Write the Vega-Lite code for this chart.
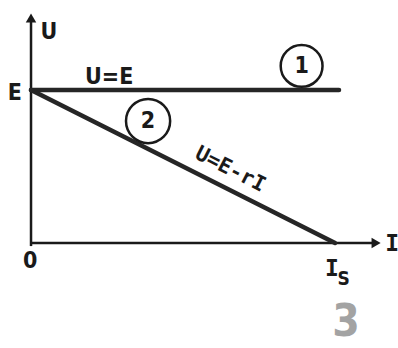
{
  "$schema": "https://vega.github.io/schema/vega-lite/v6.json",
  "width": 398,
  "height": 348,
  "autosize": {"type": "none"},
  "padding": 0,
  "background": "white",
  "config": {"view": {"stroke": null}},
  "datasets": {
    "lines": [
      {"series": "axisY", "I": 0, "U": -0.02, "o": 0},
      {"series": "axisY", "I": 0, "U": 1.47, "o": 1},
      {"series": "axisX", "I": 0, "U": 0, "o": 0},
      {"series": "axisX", "I": 1.13, "U": 0, "o": 1},
      {"series": "c1", "I": 0, "U": 1, "o": 0},
      {"series": "c1", "I": 1.013, "U": 1, "o": 1},
      {"series": "c2", "I": 0, "U": 1, "o": 0},
      {"series": "c2", "I": 1.0, "U": 0, "o": 1}
    ],
    "arrows": [
      {"dir": "up", "I": 0, "U": 1.47},
      {"dir": "right", "I": 1.135, "U": 0}
    ],
    "circles": [
      {"label": "1", "I": 0.89, "U": 1.157},
      {"label": "2", "I": 0.385, "U": 0.797}
    ],
    "labels": [
      {"t": "U", "I": 0.059, "U": 1.379},
      {"t": "E", "I": -0.053, "U": 0.98},
      {"t": "0", "I": -0.003, "U": -0.118},
      {"t": "U=E", "I": 0.257, "U": 1.085},
      {"t": "1", "I": 0.89, "U": 1.157},
      {"t": "2", "I": 0.385, "U": 0.797}
    ],
    "ilabels": [
      {"t": "I", "I": 1.188, "U": -0.007},
      {"t": "I", "I": 0.99, "U": -0.17}
    ],
    "sub": [
      {"t": "S", "I": 1.028, "U": -0.235}
    ],
    "slanted": [
      {"t": "U=E-rI", "I": 0.655, "U": 0.48}
    ],
    "fig": [
      {"t": "3", "I": 1.036, "U": -0.52}
    ]
  },
  "encoding": {
    "x": {"field": "I", "type": "quantitative", "scale": {"domain": [-0.102, 1.207], "nice": false, "zero": false}, "axis": null},
    "y": {"field": "U", "type": "quantitative", "scale": {"domain": [-0.686, 1.588], "nice": false, "zero": false}, "axis": null}
  },
  "layer": [
    {
      "data": {"name": "lines"},
      "transform": [{"filter": "datum.series === 'axisX' || datum.series === 'axisY'"}],
      "mark": {"type": "line", "color": "#1a1a1a", "strokeWidth": 2.5},
      "encoding": {"detail": {"field": "series"}, "order": {"field": "o"}}
    },
    {
      "data": {"name": "lines"},
      "transform": [{"filter": "datum.series === 'c1' || datum.series === 'c2'"}],
      "mark": {"type": "line", "color": "#262626", "strokeWidth": 4.5, "strokeCap": "round"},
      "encoding": {"detail": {"field": "series"}, "order": {"field": "o"}}
    },
    {
      "data": {"name": "arrows"},
      "transform": [{"filter": "datum.dir === 'up'"}],
      "mark": {"type": "point", "shape": "triangle-up", "filled": true, "color": "#1a1a1a", "size": 110, "opacity": 1}
    },
    {
      "data": {"name": "arrows"},
      "transform": [{"filter": "datum.dir === 'right'"}],
      "mark": {"type": "point", "shape": "triangle-right", "filled": true, "color": "#1a1a1a", "size": 110, "opacity": 1}
    },
    {
      "data": {"name": "circles"},
      "transform": [{"filter": "datum.label === '1'"}],
      "mark": {"type": "point", "shape": "circle", "filled": false, "color": "#1a1a1a", "strokeWidth": 2.5, "size": 1750, "opacity": 1}
    },
    {
      "data": {"name": "circles"},
      "transform": [{"filter": "datum.label === '2'"}],
      "mark": {"type": "point", "shape": "circle", "filled": false, "color": "#1a1a1a", "strokeWidth": 2.5, "size": 1950, "opacity": 1}
    },
    {
      "data": {"name": "labels"},
      "mark": {"type": "text", "font": "DejaVu Sans Condensed", "fontSize": 23, "fontWeight": "bold", "color": "#1a1a1a", "align": "center", "baseline": "middle"},
      "encoding": {"text": {"field": "t"}}
    },
    {
      "data": {"name": "ilabels"},
      "mark": {"type": "text", "font": "DejaVu Sans Mono", "fontSize": 23, "fontWeight": "bold", "color": "#1a1a1a", "align": "center", "baseline": "middle"},
      "encoding": {"text": {"field": "t"}}
    },
    {
      "data": {"name": "sub"},
      "mark": {"type": "text", "font": "DejaVu Sans Condensed", "fontSize": 19, "fontWeight": "bold", "color": "#1a1a1a", "align": "center", "baseline": "middle"},
      "encoding": {"text": {"field": "t"}}
    },
    {
      "data": {"name": "slanted"},
      "mark": {"type": "text", "font": "DejaVu Sans Mono", "fontSize": 21, "fontWeight": "bold", "color": "#1a1a1a", "align": "center", "baseline": "middle", "angle": 27},
      "encoding": {"text": {"field": "t"}}
    },
    {
      "data": {"name": "fig"},
      "mark": {"type": "text", "font": "DejaVu Sans Condensed", "fontSize": 44, "fontWeight": "bold", "color": "#a3a3a3", "align": "center", "baseline": "middle"},
      "encoding": {"text": {"field": "t"}}
    }
  ]
}
